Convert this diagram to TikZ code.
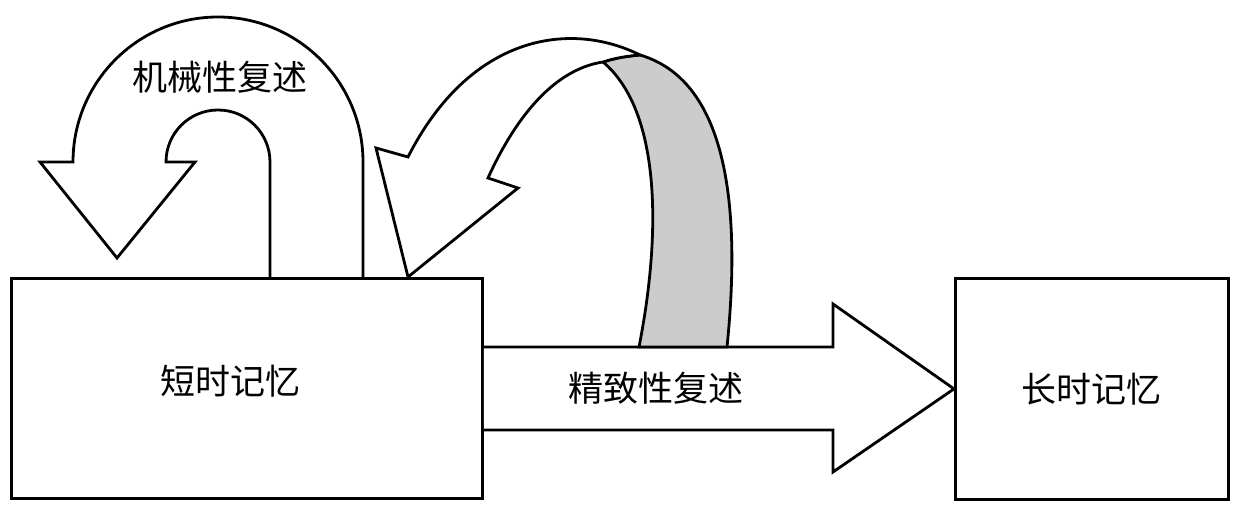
\documentclass[tikz,border=0pt]{standalone}
\usepackage{fontspec}
\newfontfamily\cjk{Noto Sans CJK SC}
\usepackage{tikz}
\usetikzlibrary{positioning,calc}

\begin{document}
\begin{tikzpicture}[
      x=0.5pt, y=-0.5pt,
      line width=1.4pt,
      lbl/.style={font=\cjk\fontsize{17.5}{20}\selectfont, inner sep=0pt},
      memory/.style={draw, rectangle, inner sep=0pt, lbl, anchor=north west},
      fat/.style={draw, fill=white, line join=miter},
      band/.style={draw, fill=gray!40, line join=miter},
    ]
    \useasboundingbox (0,0) rectangle (1236,506);
    \node[memory, minimum width=235.5pt, minimum height=110pt] (stm) at (10,277) {};
    \node[memory, minimum width=136.5pt, minimum height=110.5pt] (ltm) at (954,277) {长时记忆};
    \node[lbl] (stmtext) at (230,381) {短时记忆};
    % elaborative rehearsal
    \draw[fat] (stm.east |- 0,347) -- (833,347) -- (833,304) -- (ltm.west)
      -- (833,472) -- (833,430) -- (stm.east |- 0,430);
    \node[lbl] (elab) at (656,388) {精致性复述};
    \draw[band] (639,347) .. controls (662,230) and (660,110) .. (603,62)
      .. controls (615,58) and (628,56) .. (640,55)
      .. controls (725,80) and (742,200) .. (727,347) -- cycle;
    \draw[fat] (640,55) .. controls (570,20) and (470,35) .. (408,157)
      -- (376,148) -- (408,277) -- (518,188) -- (488,178)
      .. controls (512,125) and (550,70) .. (603,62)
      .. controls (615,58) and (628,56) .. (640,55) -- cycle;
    % maintenance rehearsal
    \draw[fat] (363,277) -- (363,162) arc[start angle=0, end angle=-180, radius=145]
      -- (40,162) -- (117,258) -- (195,162) -- (166,162)
      arc[start angle=180, end angle=360, radius=52] -- (270,277);
    \node[lbl] (mlab) at (220,77) {机械性复述};
  \end{tikzpicture}
\end{document}
